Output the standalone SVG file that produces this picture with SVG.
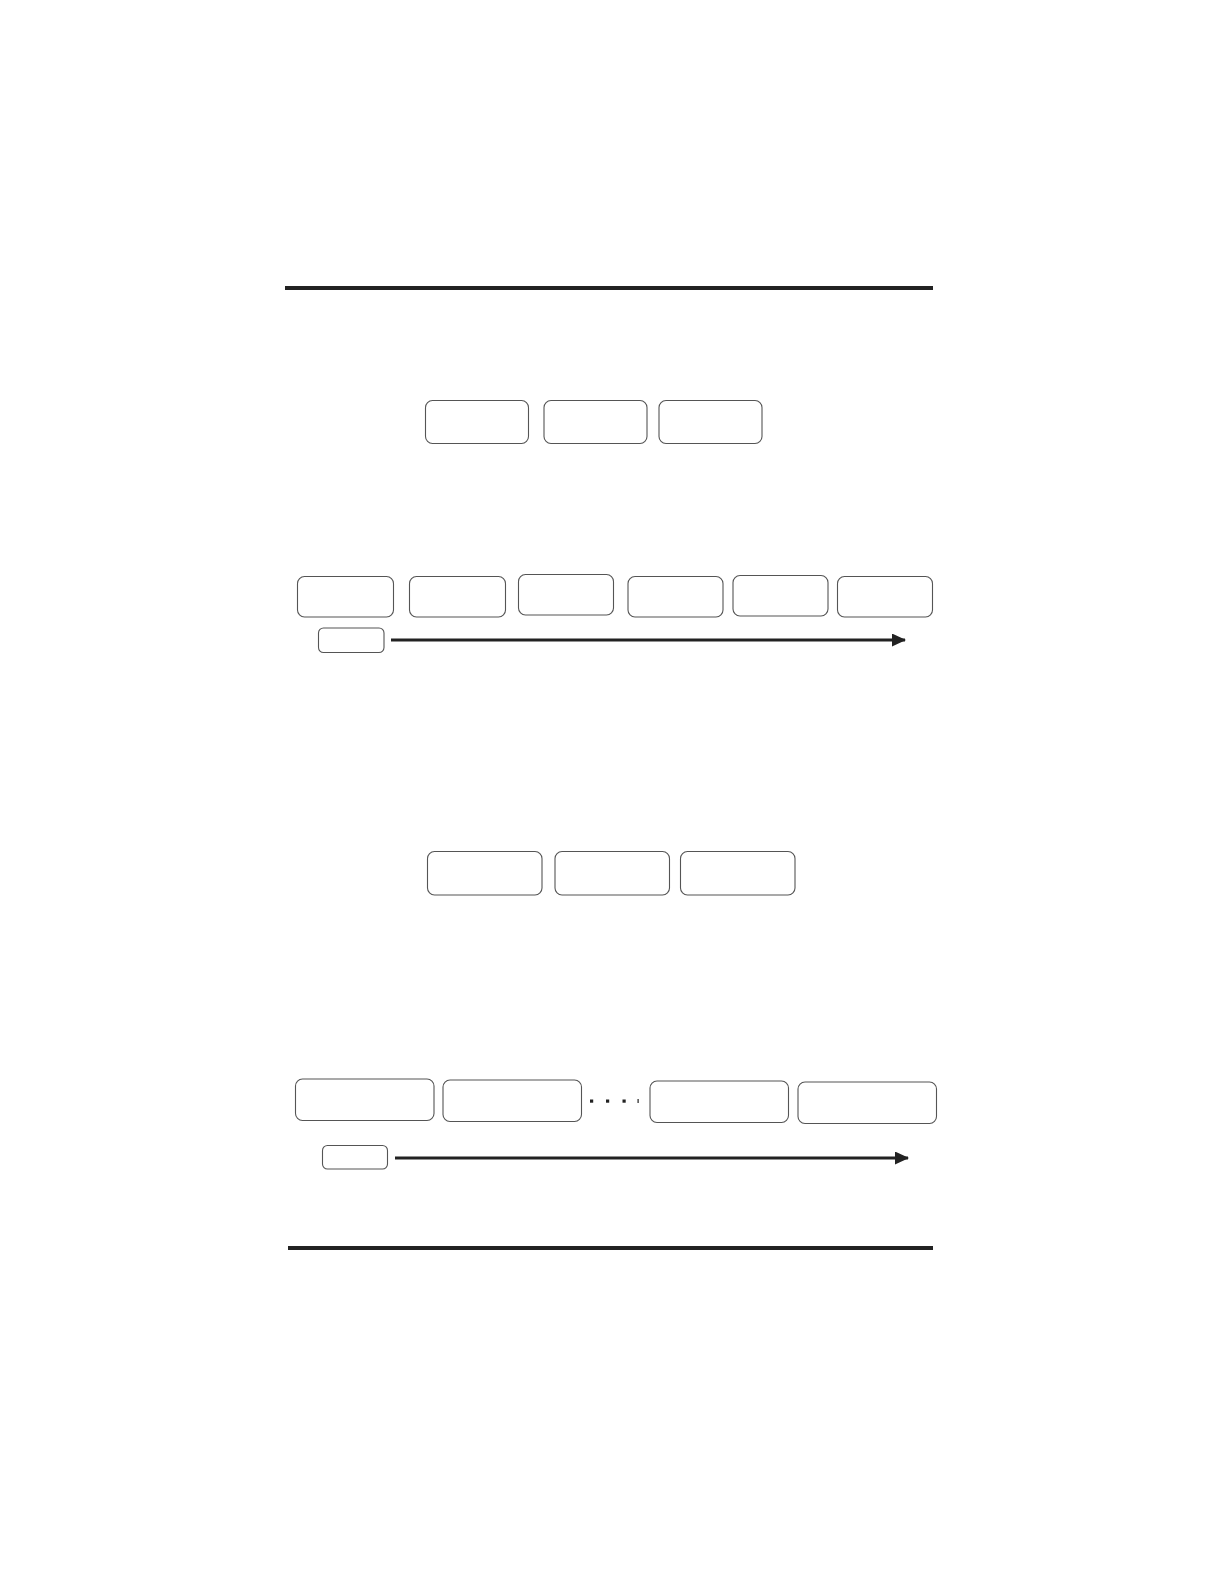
<svg xmlns="http://www.w3.org/2000/svg" width="1224" height="1584" viewBox="0 0 1224 1584">
<style>
.b{fill:#fff;stroke:#555;stroke-width:1.1}
.c{stroke:#222;stroke-width:3;fill:none}
.r{fill:#222}
</style>
<defs>
<marker id="ah" markerWidth="14" markerHeight="13" refX="13" refY="6.5" orient="auto" markerUnits="userSpaceOnUse">
<path d="M0,0 L14,6.5 L0,13 Z" fill="#222"/>
</marker>
</defs>
<rect width="1224" height="1584" fill="#fff"/>
<rect class="r" x="285" y="286" width="648" height="4"/>
<rect class="r" x="288" y="1246" width="645" height="4"/>
<g id="n1"><rect class="b" x="425.5" y="400.5" width="103" height="43" rx="7"/></g>
<g id="n2"><rect class="b" x="544" y="400.5" width="103" height="43" rx="7"/></g>
<g id="n3"><rect class="b" x="659" y="400.5" width="103" height="43" rx="7"/></g>
<g id="n4"><rect class="b" x="297.5" y="576.5" width="96" height="40.5" rx="7"/></g>
<g id="n5"><rect class="b" x="409.5" y="576.5" width="96" height="40.5" rx="7"/></g>
<g id="n6"><rect class="b" x="518.5" y="574.5" width="95" height="40.5" rx="7"/></g>
<g id="n7"><rect class="b" x="628" y="576.5" width="95" height="40.5" rx="7"/></g>
<g id="n8"><rect class="b" x="733" y="575.5" width="95" height="40.5" rx="7"/></g>
<g id="n9"><rect class="b" x="837.5" y="576.5" width="95" height="40.5" rx="7"/></g>
<g id="n10"><rect class="b" x="318.5" y="628" width="65.5" height="24.5" rx="5"/></g>
<g id="n11"><rect class="b" x="427.5" y="851.5" width="114.5" height="43.5" rx="7"/></g>
<g id="n12"><rect class="b" x="555" y="851.5" width="114.5" height="43.5" rx="7"/></g>
<g id="n13"><rect class="b" x="680.5" y="851.5" width="114.5" height="43.5" rx="7"/></g>
<g id="n14"><rect class="b" x="295.5" y="1079" width="138.5" height="41.5" rx="7"/></g>
<g id="n15"><rect class="b" x="443" y="1080" width="138.5" height="41.5" rx="7"/></g>
<g id="n16"><rect class="b" x="650" y="1081" width="138.5" height="41.5" rx="7"/></g>
<g id="n17"><rect class="b" x="798" y="1082" width="138.5" height="41.5" rx="7"/></g>
<g id="n18"><rect class="b" x="322.5" y="1145.5" width="65" height="23.5" rx="5"/></g>
<g id="dots">
<rect class="r" x="590" y="1099.5" width="3.2" height="3.2"/>
<rect class="r" x="606" y="1099.5" width="3.2" height="3.2"/>
<rect class="r" x="622.5" y="1099.5" width="3.2" height="3.2"/>
<rect class="r" x="637.5" y="1099" width="1.2" height="4"/>
</g>
<g id="connectors">
<line class="c" x1="391" y1="640" x2="905" y2="640" marker-end="url(#ah)"/>
<line class="c" x1="395" y1="1158" x2="908" y2="1158" marker-end="url(#ah)"/>
</g>
</svg>
